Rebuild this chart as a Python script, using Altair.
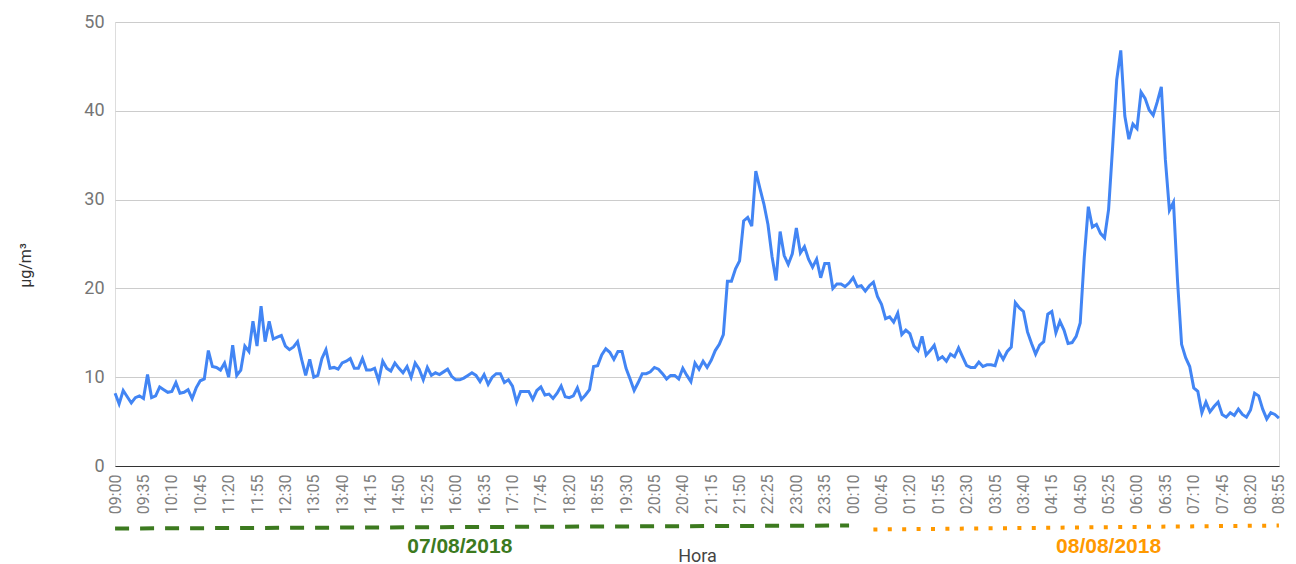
import altair as alt
import pandas as pd

# PM concentration (µg/m³), 5-minute readings
# 07/08/2018 from 09:00 to 23:55
valores_07 = [
    8.2, 7.0, 8.5, 7.8, 7.1, 7.7, 7.9, 7.6, 10.3, 7.7,
    7.9, 8.9, 8.6, 8.3, 8.4, 9.4, 8.2, 8.3, 8.6, 7.6,
    8.8, 9.6, 9.8, 13.0, 11.2, 11.1, 10.8, 11.6, 10.0, 13.6,
    10.2, 10.8, 13.5, 12.9, 16.3, 13.5, 18.0, 14.0, 16.3, 14.3,
    14.5, 14.7, 13.5, 13.1, 13.4, 14.0, 12.0, 10.2, 12.0, 10.0,
    10.2, 12.1, 13.1, 11.0, 11.1, 10.9, 11.6, 11.8, 12.1, 11.0,
    11.0, 12.1, 10.8, 10.8, 11.0, 9.6, 11.8, 11.0, 10.7, 11.6,
    11.0, 10.5, 11.2, 10.0, 11.6, 10.9, 9.7, 11.1, 10.2, 10.5,
    10.3, 10.6, 10.9, 10.1, 9.7, 9.7, 9.9, 10.2, 10.5, 10.2,
    9.5, 10.3, 9.2, 10.0, 10.4, 10.4, 9.4, 9.7, 9.0, 7.2,
    8.4, 8.4, 8.4, 7.5, 8.5, 8.9, 8.0, 8.1, 7.6, 8.2,
    9.0, 7.8, 7.7, 7.9, 8.8, 7.5, 8.0, 8.6, 11.2, 11.3,
    12.5, 13.2, 12.8, 12.0, 12.9, 12.9, 11.0, 9.8, 8.5, 9.4,
    10.4, 10.4, 10.6, 11.1, 10.9, 10.4, 9.8, 10.2, 10.2, 9.8,
    11.0, 10.2, 9.5, 11.6, 10.9, 11.8, 11.1, 11.9, 13.0, 13.7,
    14.8, 20.8, 20.8, 22.2, 23.1, 27.6, 28.0, 27.0, 33.2, 31.3,
    29.5, 27.2, 23.6, 20.9, 26.4, 23.7, 22.7, 23.9, 26.8, 24.0,
    24.7, 23.3, 22.4, 23.3, 21.2, 22.8, 22.8, 20.0, 20.5, 20.5,
]
# 08/08/2018 from 00:00 to 08:55
valores_08 = [
    20.2, 20.6, 21.2, 20.2, 20.3, 19.7, 20.3, 20.7, 19.1, 18.2,
    16.6, 16.8, 16.2, 17.2, 14.8, 15.3, 14.9, 13.5, 13.0, 14.6,
    12.5, 13.0, 13.6, 12.0, 12.3, 11.8, 12.6, 12.3, 13.3, 12.3,
    11.3, 11.1, 11.1, 11.7, 11.2, 11.4, 11.4, 11.3, 12.8, 12.0,
    12.9, 13.4, 18.4, 17.8, 17.4, 15.1, 13.8, 12.6, 13.6, 14.0,
    17.1, 17.4, 15.0, 16.3, 15.3, 13.8, 13.9, 14.6, 16.1, 23.5,
    29.2, 26.9, 27.2, 26.2, 25.7, 28.9, 36.0, 43.5, 46.8, 39.4,
    36.8, 38.5, 38.0, 42.1, 41.4, 40.1, 39.5, 41.0, 42.7, 34.5,
    28.8, 29.7, 20.8, 13.7, 12.2, 11.2, 8.8, 8.4, 6.0, 7.2,
    6.1, 6.7, 7.2, 5.8, 5.5, 6.0, 5.7, 6.4, 5.8, 5.5,
    6.3, 8.2, 7.9, 6.4, 5.3, 6.0, 5.8, 5.4,
]

tick_labels = [
    "09:00", "09:35", "10:10", "10:45", "11:20", "11:55", "12:30", "13:05",
    "13:40", "14:15", "14:50", "15:25", "16:00", "16:35", "17:10", "17:45",
    "18:20", "18:55", "19:30", "20:05", "20:40", "21:15", "21:50", "22:25",
    "23:00", "23:35", "00:10", "00:45", "01:20", "01:55", "02:30", "03:05",
    "03:40", "04:15", "04:50", "05:25", "06:00", "06:35", "07:10", "07:45",
    "08:20", "08:55",
]
y_ticks = [0, 10, 20, 30, 40, 50]

valores = valores_07 + valores_08
horas = pd.date_range("2018-08-07 09:00", periods=len(valores), freq="5min").strftime("%H:%M").tolist()
df = pd.DataFrame({"hora": horas, "valor": valores})

# date annotation spans
fechas = pd.DataFrame({
    "inicio": ["09:00", "00:35"],
    "fin": ["00:05", "08:55"],
    "centro": ["16:05", "05:25"],
    "fecha": ["07/08/2018", "08/08/2018"],
})

W, H = 1164, 444
# a tiny outer padding keeps the first point strictly inside the range
xscale = alt.Scale(type="point", padding=0.02, domain=horas)

x_enc = alt.X(
    "hora:O", sort=None, scale=xscale,
    axis=alt.Axis(
        values=tick_labels, labelAngle=270, ticks=False, labelPadding=8,
        labelOverlap=False, labelFontSize=16, labelColor="#808080", labelFont="Roboto",
        domainColor="#333333", grid=False,
        title="Hora", titleFontSize=18, titleFontWeight="normal", titleColor="#444444",
        titleFont="Roboto", titleY=90, titleBaseline="middle",
    ),
)

line = alt.Chart(df).mark_line(color="#4285F4", strokeWidth=3).encode(
    x=x_enc,
    y=alt.Y(
        "valor:Q", scale=alt.Scale(domain=[0, 50], nice=False),
        axis=alt.Axis(
            values=y_ticks, domain=False, ticks=False, labelPadding=11,
            labelFontSize=18, labelColor="#757575", labelFont="Roboto",
            gridColor="#cccccc", gridWidth=1.2,
            title="μg/m³", titleFontSize=16, titleFontWeight="normal", titleColor="#333333",
            titleFont="Roboto", titleX=-90, titleY=243, titleBaseline="middle", titleAlign="center",
        ),
    ),
)

green = alt.Chart(fechas.iloc[[0]]).mark_rule(
    color="#3c7a1f", strokeWidth=4, strokeDash=[14, 11], strokeCap="butt"
).encode(
    x=alt.X("inicio:O", scale=xscale),
    x2="fin:O",
    y=alt.value(506.5), y2=alt.value(503.5),
)

orange = alt.Chart(fechas.iloc[[1]]).mark_rule(
    color="#ff9900", strokeWidth=4, strokeDash=[4, 10.4], strokeCap="butt"
).encode(
    x=alt.X("inicio:O", scale=xscale),
    x2="fin:O",
    y=alt.value(507.5), y2=alt.value(503.5),
)

labels = alt.Chart(fechas).mark_text(
    font="Liberation Sans", fontSize=21, fontWeight="bold", baseline="middle", align="center"
).encode(
    x=alt.X("centro:O", scale=xscale),
    y=alt.value(525),
    text="fecha:N",
    color=alt.Color("fecha:N", scale=alt.Scale(domain=["07/08/2018", "08/08/2018"],
                                               range=["#3c7a1f", "#ff9900"]), legend=None),
)

chart = alt.layer(line, green, orange, labels).properties(
    width=W, height=H,
    autosize=alt.AutoSizeParams(type="none"),
    padding={"left": 107, "top": 14, "right": 9, "bottom": 98},
).configure_view(stroke=None).configure(background="white")

chart.save("out.html", embed_options={"renderer": "svg", "actions": False})
